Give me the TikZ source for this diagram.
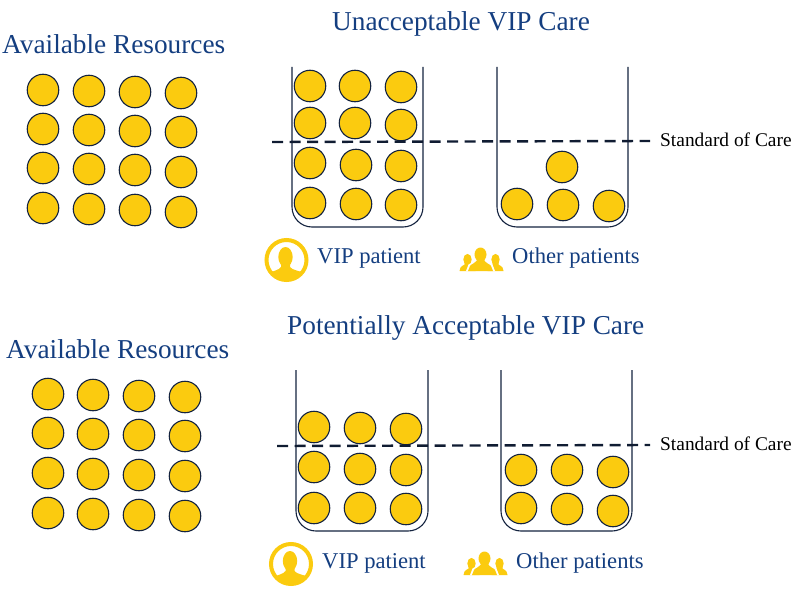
\documentclass[tikz,border=0pt]{standalone}
\usepackage{fontspec}
\setmainfont{Liberation Serif}
\definecolor{gold}{HTML}{FBCB0F}
\definecolor{navy}{HTML}{143E80}
\definecolor{ink}{HTML}{14233F}
\tikzset{
  x=1pt,y=-1pt,
  res/.style={circle,draw=ink,line width=1.1pt,fill=gold,minimum size=31.5pt,inner sep=0pt},
  beaker/.style={draw=ink,line width=1.1pt,rounded corners=20pt},
  sol/.style={draw=ink!80!black,line width=2.4pt,dash pattern=on 11pt off 6.5pt},
  head/.style={text=navy,font=\fontsize{27.3}{30}\selectfont,inner sep=0pt,anchor=base west},
  lab/.style={text=navy,font=\fontsize{22.6}{26}\selectfont,inner sep=0pt,anchor=base west},
  soc/.style={text=black,font=\fontsize{19.4}{22}\selectfont,inner sep=0pt,anchor=base west}
}
\newcommand{\vipicon}[2]{%
  \begin{scope}[shift={(#1,#2)}]
    \begin{scope}
      \clip (0,0) circle (20);
      \fill[gold] (-1,-3) ellipse (7.2 and 10);
      \fill[gold] (-5.5,2) -- (-5.5,7) .. controls (-7,10) and (-14,11) .. (-17,13) -- (-20,24) -- (20,24) -- (17,13) .. controls (14,11) and (5,10) .. (3.5,7) -- (3.5,2) -- cycle;
    \end{scope}
    \draw[gold,line width=4pt] (0,0) circle (20);
  \end{scope}}
\newcommand{\sideperson}[1]{%
  \fill[gold] (#1,1.5) ellipse (4.2 and 5.6);
  \fill[gold] (#1-3,3) -- (#1-3,6.5) .. controls (#1-4.5,8) and (#1-6.5,8) .. (#1-7,9.5) -- (#1-8,13) -- (#1+8,13) -- (#1+7,9.5) .. controls (#1+6.5,8) and (#1+4.5,8) .. (#1+3,6.5) -- (#1+3,3) -- cycle;}
\newcommand{\groupicon}[2]{%
  \begin{scope}[shift={(#1,#2)}]
    \sideperson{-14}
    \sideperson{14}
    \fill[white] (-1,-3.5) ellipse (7 and 8);
    \fill[white] (-15.5,13) -- (-13,6.5) -- (-5,2) -- (3,2) -- (11,6.5) -- (13.5,13) -- cycle;
    \fill[gold] (-1,-3.5) ellipse (6 and 7);
    \fill[gold] (-5,0) -- (-5,3) .. controls (-6.5,5.5) and (-10.5,6) .. (-11.5,8) -- (-13.5,13) -- (11.5,13) -- (9.5,8) .. controls (8.5,6) and (4.5,5.5) .. (3,3) -- (3,0) -- cycle;
  \end{scope}}
\begin{document}
\begin{tikzpicture}
\useasboundingbox (0,0) rectangle (800,594);
% ---- top panel
\node[head] (t1) at (332,31) {Unacceptable VIP Care};
\node[head] (a1) at (2,54) {Available Resources};
\foreach \x/\y [count=\i] in {43/90,89/91,135/92,181/93,43/129,89/130,135/131,181/132,43/168,89/169,135/170,181/172,43/208,89/209,135/210,181/212}
  \node[res] (ta\i) at (\x,\y) {};
\draw[beaker] (292,67) -- (292,227) -- (423,227) -- (423,67);
\draw[beaker] (497,67) -- (497,227) -- (628,227) -- (628,67);
\foreach \x/\y [count=\i] in {310/86,355/86,401/87,310/123,355/123,401/125,310/163,356/165,401/166,310/203,356/204,401/205,562/167,517/204,563/205,609/206}
  \node[res] (tb\i) at (\x,\y) {};
\coordinate (d1s) at (272,142);
\coordinate (d1e) at (650,141);
\draw[sol] (d1s) -- (d1e);
\node[soc] (s1) at (660,146) {Standard of Care};
\vipicon{286.5}{260}
\node[lab] (v1) at (317,263) {VIP patient};
\groupicon{481.5}{258}
\node[lab] (o1) at (512,263) {Other patients};
% ---- bottom panel
\node[head] (t2) at (287,334) {Potentially Acceptable VIP Care};
\node[head] (a2) at (6,358) {Available Resources};
\foreach \x/\y [count=\i] in {48/394,93/395,139/396,185/397,48/433,93/434,139/435,185/436,48/473,93/474,139/475,185/476,48/513,93/514,139/515,185/516}
  \node[res] (ba\i) at (\x,\y) {};
\draw[beaker] (296,370) -- (296,531) -- (428,531) -- (428,370);
\draw[beaker] (501,370) -- (501,531) -- (632,531) -- (632,370);
\foreach \x/\y [count=\i] in {314/427,360/428,406/429,314/467,360/469,406/470,314/508,360/508,406/509,521/470,567/470,613/472,521/508,567/509,613/511}
  \node[res] (bb\i) at (\x,\y) {};
\coordinate (d2s) at (277,446);
\coordinate (d2e) at (650,445);
\draw[sol] (d2s) -- (d2e);
\node[soc] (s2) at (660,450) {Standard of Care};
\vipicon{291}{564}
\node[lab] (v2) at (322,568) {VIP patient};
\groupicon{485.5}{562}
\node[lab] (o2) at (516,568) {Other patients};
\end{tikzpicture}
\end{document}
